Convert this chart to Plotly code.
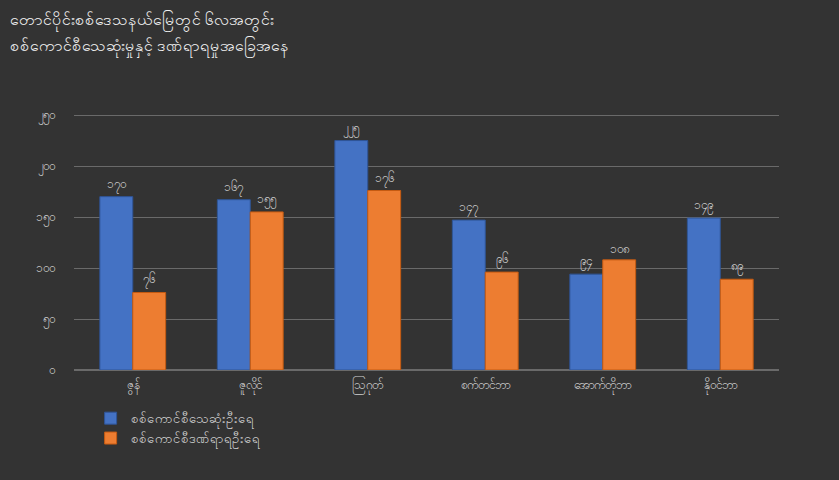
import plotly.graph_objects as go

months = ["ဇွန်", "ဇူလိုင်", "ဩဂုတ်", "စက်တင်ဘာ", "အောက်တိုဘာ", "နိုဝင်ဘာ"]
deaths = [170, 167, 225, 147, 94, 149]
injured = [76, 155, 176, 96, 108, 89]
death_labels = ["၁၇၀", "၁၆၇", "၂၂၅", "၁၄၇", "၉၄", "၁၄၉"]
injured_labels = ["၇၆", "၁၅၅", "၁၇၆", "၉၆", "၁၀၈", "၈၉"]
tick_vals = [0, 50, 100, 150, 200, 250]
tick_text = ["၀", "၅၀", "၁၀၀", "၁၅၀", "၂၀၀", "၂၅၀"]
series_names = ["စစ်ကောင်စီသေဆုံးဦးရေ", "စစ်ကောင်စီဒဏ်ရာရဦးရေ"]
title_lines = ["တောင်ပိုင်းစစ်ဒေသနယ်မြေတွင် ၆လအတွင်း", "စစ်ကောင်စီသေဆုံးမှုနှင့် ဒဏ်ရာရမှုအခြေအနေ"]

FONT = "Noto Sans, DejaVu Sans, sans-serif"
fig = go.Figure()
fig.add_trace(go.Bar(
    x=months, y=deaths, name=series_names[0], text=death_labels,
    textposition="outside", cliponaxis=False,
    marker=dict(color="#4472C4", line=dict(color="#2F5597", width=1)),
    textfont=dict(color="#cfcfcf", size=12),
))
fig.add_trace(go.Bar(
    x=months, y=injured, name=series_names[1], text=injured_labels,
    textposition="outside", cliponaxis=False,
    marker=dict(color="#ED7D31", line=dict(color="#C55A11", width=1)),
    textfont=dict(color="#cfcfcf", size=12),
))

for i, line in enumerate(title_lines):
    fig.add_annotation(text=line, xref="paper", yref="paper", x=-66 / 705, y=1 + (113 - 20 - 26 * i) / 256,
                       xanchor="left", yanchor="middle", showarrow=False,
                       font=dict(size=16, color="#f2f2f2", family=FONT))

fig.update_layout(
    width=839, height=480,
    paper_bgcolor="#333333", plot_bgcolor="#333333",
    font=dict(family=FONT, color="#d0d0d0", size=11),
    margin=dict(l=74, r=60, t=113, b=110, autoexpand=False),
    barmode="group", bargap=0.44, bargroupgap=0.0,
    xaxis=dict(showgrid=False, showline=False, ticks="", automargin=False,
               ticklabelstandoff=6, tickfont=dict(size=12, color="#d0d0d0")),
    yaxis=dict(range=[0, 252], tickvals=tick_vals, ticktext=tick_text, showgrid=True,
               gridcolor="#6a6a6a", gridwidth=1, zeroline=True, zerolinecolor="#6a6a6a",
               showline=False, ticks="", ticklabelstandoff=18, automargin=False,
               tickfont=dict(size=12, color="#d0d0d0")),
    legend=dict(orientation="v", xref="container", yref="container", x=0.108, y=0.16,
                xanchor="left", yanchor="top", bgcolor="rgba(0,0,0,0)",
                font=dict(size=13, color="#d8d8d8"), itemwidth=30, tracegroupgap=4),
    showlegend=True,
)

fig.write_html("out.html")
